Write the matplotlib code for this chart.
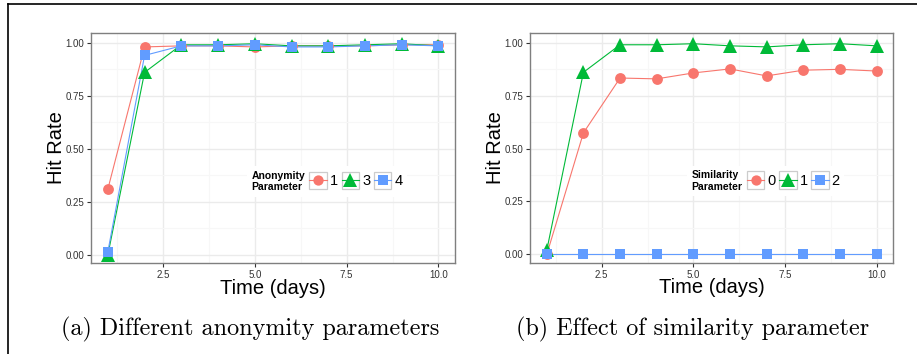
import matplotlib
matplotlib.use("Agg")
import matplotlib.pyplot as plt
from matplotlib.legend_handler import HandlerLine2D
from matplotlib.patches import Rectangle
from matplotlib.lines import Line2D
from matplotlib.offsetbox import HPacker

plt.rcParams['font.family'] = ['Liberation Sans', 'DejaVu Sans']

days = [1, 2, 3, 4, 5, 6, 7, 8, 9, 10]

# Panel (a): anonymity parameters
anon_labels = ["1", "3", "4"]
anon_1 = [0.31, 0.98, 0.985, 0.985, 0.98, 0.985, 0.985, 0.985, 0.99, 0.99]
anon_3 = [0.0, 0.86, 0.99, 0.99, 0.995, 0.985, 0.985, 0.99, 0.995, 0.985]
anon_4 = [0.015, 0.94, 0.985, 0.985, 0.99, 0.98, 0.98, 0.985, 0.99, 0.985]

# Panel (b): similarity parameters
sim_labels = ["0", "1", "2"]
sim_0 = [0.0, 0.574, 0.833, 0.829, 0.857, 0.876, 0.843, 0.870, 0.874, 0.866]
sim_1 = [0.02, 0.86, 0.99, 0.99, 0.995, 0.985, 0.98, 0.99, 0.995, 0.985]
sim_2 = [0.0, 0.0, 0.0, 0.0, 0.0, 0.0, 0.0, 0.0, 0.0, 0.0]

x_ticks = [2.5, 5.0, 7.5, 10.0]
x_tick_labels = ["2.5", "5.0", "7.5", "10.0"]
y_ticks = [0.0, 0.25, 0.5, 0.75, 1.0]
y_tick_labels = ["0.00", "0.25", "0.50", "0.75", "1.00"]

captions = ["(a) Different anonymity parameters", "(b) Effect of similarity parameter"]
legend_titles = ["Anonymity\nParameter", "Similarity\nParameter"]

colors = ["#F8766D", "#00BA38", "#619CFF"]
markers = ["o", "^", "s"]
msizes = [7.8, 10, 7.8]

W, H = 917, 354
fig = plt.figure(figsize=(W / 100, H / 100), dpi=100)


class BoxedHandler(HandlerLine2D):
    def create_artists(self, legend, orig_handle, xdescent, ydescent,
                       width, height, fontsize, trans):
        arts = super().create_artists(legend, orig_handle, xdescent, ydescent,
                                      width, height, fontsize, trans)
        rect = Rectangle((-xdescent, -ydescent - 0.25 * height), width, height * 1.5,
                         facecolor="white", edgecolor="#CCCCCC", lw=0.9,
                         transform=trans)
        return [rect] + list(arts)


def make_axes(px_left, px_right, px_top, px_bottom):
    return fig.add_axes([px_left / W, 1 - px_bottom / H,
                         (px_right - px_left) / W, (px_bottom - px_top) / H])


def style(ax):
    ax.set_xlim(0.55, 10.45)
    ax.set_ylim(-0.039, 1.047)
    ax.set_xticks(x_ticks)
    ax.set_xticklabels(x_tick_labels)
    ax.set_yticks(y_ticks)
    ax.set_yticklabels(y_tick_labels)
    ax.set_xticks([1.25, 3.75, 6.25, 8.75], minor=True)
    ax.set_yticks([0.125, 0.375, 0.625, 0.875], minor=True)
    ax.grid(True, which="major", color="#EBEBEB", lw=1.0, zorder=0)
    ax.grid(True, which="minor", color="#F7F7F7", lw=0.8, zorder=0)
    ax.tick_params(which="minor", length=0)
    ax.tick_params(which="major", length=3, width=0.8, color="#333333",
                   labelsize=7, labelcolor="#333333", pad=2)
    ax.set_axisbelow(True)
    for s in ax.spines.values():
        s.set_color("#7F7F7F")
        s.set_linewidth(1.0)
    ax.set_xlabel("Time (days)", fontsize=14.5, labelpad=-1)
    ax.set_ylabel("Hit Rate", fontsize=14.5, labelpad=0)


def panel(ax, series, labels, title, anchor):
    lines = []
    for ys, c in zip(series, colors):
        ax.plot(days, ys, color=c, lw=0.8, zorder=2)
    for ys, c, m, ms in zip(series, colors, markers, msizes):
        ax.plot(days, ys, linestyle="none", marker=m, color=c, markersize=ms,
                markeredgewidth=0, zorder=3)
    for c, m, ms in zip(colors, markers, msizes):
        lines.append(Line2D([], [], color=c, lw=0.8, marker=m, markersize=ms * 0.95,
                            markeredgewidth=0))
    leg = ax.legend(lines, labels, ncol=3, loc="center left", bbox_to_anchor=anchor,
                    frameon=True, fancybox=False, edgecolor="none", facecolor="white",
                    framealpha=1, fontsize=10.5, handlelength=1.2, handleheight=0.85,
                    handletextpad=0.2, columnspacing=0.25, borderpad=0.3,
                    title=title, title_fontproperties={"weight": "bold", "size": 7.5},
                    handler_map={Line2D: BoxedHandler(numpoints=1)})
    leg._legend_title_box._text.set_multialignment("left")
    fs = leg._fontsize
    box = HPacker(pad=leg.borderpad * fs, sep=0.3 * fs, align="center",
                  children=[leg._legend_title_box, leg._legend_handle_box])
    box.set_figure(fig)
    box.axes = ax
    box.set_offset(leg._findoffset)
    leg._legend_box = box


axa = make_axes(91.3, 455, 32.7, 263.3)
style(axa)
panel(axa, [anon_1, anon_3, anon_4], anon_labels, legend_titles[0], (0.408, 0.355))

axb = make_axes(530.3, 893, 32.7, 262.7)
style(axb)
panel(axb, [sim_0, sim_1, sim_2], sim_labels, legend_titles[1], (0.412, 0.355))

fig.text(250 / W, 1 - 329 / H, captions[0], fontsize=17.4, family="cmr10",
         ha="center", va="center")
fig.text(693 / W, 1 - 329 / H, captions[1], fontsize=17.4, family="cmr10",
         ha="center", va="center")

# outer frame lines
fig.add_artist(Line2D([8 / W, 1.0], [1 - 4 / H, 1 - 4 / H], color="black", lw=1.2,
                      transform=fig.transFigure))
fig.add_artist(Line2D([8 / W, 8 / W], [1 - 4 / H, 0], color="black", lw=1.2,
                      transform=fig.transFigure))

fig.savefig("out.png", dpi=100)
